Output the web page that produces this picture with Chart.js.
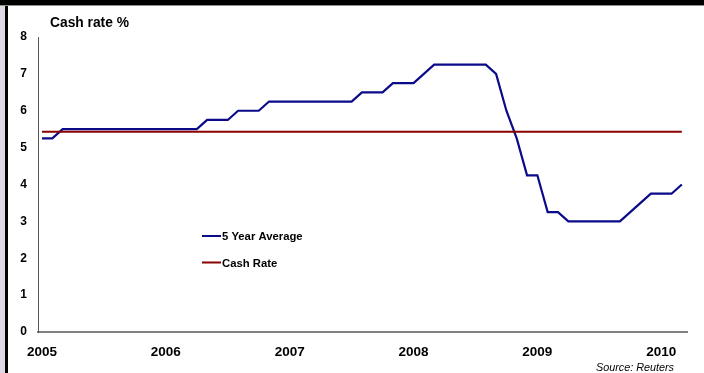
<!DOCTYPE html>
<html>
<head>
<meta charset="utf-8">
<script src="https://cdn.jsdelivr.net/npm/chart.js@4.4.1/dist/chart.umd.min.js"></script>
<style>
  html, body { margin: 0; padding: 0; background: #fff; }
  #wrap { position: relative; width: 704px; height: 373px; overflow: hidden; }
  #main-graph-canvas { position: absolute; left: 0; top: 0; }
  .frame-left { position: absolute; left: 0; top: 0; width: 5px; height: 373px; background: #ddd8e3; border-right: 3px solid #000; }
  .frame-top { position: absolute; left: 0; top: 0; width: 704px; height: 5px; background: #000; border-bottom: 1px solid #8c8c8c; }
</style>
</head>
<body>
<div id="wrap">
  <canvas id="main-graph-canvas" width="704" height="373"></canvas>
  <div class="frame-left"></div>
  <div class="frame-top"></div>
</div>
<script>
const TITLE = 'Cash rate %'
const SOURCE = 'Source: Reuters'

// x axis: one point per month, Jan 2005 = 0
const yearTicks = [0, 12, 24, 36, 48, 60]
const yearLabels = ['2005', '2006', '2007', '2008', '2009', '2010']

// monthly, Jan 2005 .. Mar 2010
const fiveYearAverage = [
  5.25, 5.25, 5.5, 5.5, 5.5, 5.5, 5.5, 5.5, 5.5, 5.5, 5.5, 5.5,
  5.5, 5.5, 5.5, 5.5, 5.75, 5.75, 5.75, 6.0, 6.0, 6.0, 6.25, 6.25,
  6.25, 6.25, 6.25, 6.25, 6.25, 6.25, 6.25, 6.5, 6.5, 6.5, 6.75, 6.75,
  6.75, 7.0, 7.25, 7.25, 7.25, 7.25, 7.25, 7.25, 7.0, 6.0, 5.25, 4.25,
  4.25, 3.25, 3.25, 3.0, 3.0, 3.0, 3.0, 3.0, 3.0, 3.25, 3.5, 3.75,
  3.75, 3.75, 4.0
]

// flat line across the whole period
const cashRateMonths = [0, 62]
const cashRate = [5.43, 5.43]

const FONT = '"Liberation Sans", Arial, sans-serif'

const chartText = {
  id: 'chartText',
  afterDraw(chart) {
    const ctx = chart.ctx
    ctx.save()
    ctx.fillStyle = '#000'
    ctx.textBaseline = 'middle'
    ctx.textAlign = 'left'
    ctx.font = 'bold 13.8px ' + FONT
    ctx.fillText(TITLE, 50, 23)

    // legend, sits inside the plot
    ctx.font = 'bold 11.3px ' + FONT
    chart.data.datasets.forEach((ds, i) => {
      const y = 236 + i * 26.5
      ctx.strokeStyle = ds.borderColor
      ctx.lineWidth = 2
      ctx.beginPath()
      ctx.moveTo(202, y)
      ctx.lineTo(221, y)
      ctx.stroke()
      ctx.fillText(ds.label, 222, y + 1)
    })

    ctx.font = 'italic 10.8px ' + FONT
    ctx.textAlign = 'right'
    ctx.fillText(SOURCE, 674, 368)
    ctx.restore()
  }
}

const ctx = document.getElementById('main-graph-canvas').getContext('2d')

new Chart(ctx, {
  type: 'line',
  data: {
    datasets: [
      {
        label: '5 Year Average',
        data: fiveYearAverage.map((v, i) => ({ x: i, y: v })),
        borderColor: '#0b0b8a',
        borderWidth: 2.2,
        order: 1
      },
      {
        label: 'Cash Rate',
        data: cashRateMonths.map((m, i) => ({ x: m, y: cashRate[i] })),
        borderColor: '#8b0000',
        borderWidth: 2.2,
        order: 0
      }
    ]
  },
  options: {
    responsive: false,
    animation: false,
    layout: { padding: { top: 37, right: 17, left: 0, bottom: 0 } },
    elements: { line: { tension: 0 }, point: { radius: 0 } },
    plugins: {
      legend: { display: false },
      tooltip: { enabled: false }
    },
    scales: {
      x: {
        type: 'linear',
        min: -0.39,
        max: 62.5,
        afterFit: (scale) => { scale.height = 41 },
        afterBuildTicks: (scale) => {
          scale.ticks = yearTicks.map((v) => ({ value: v }))
        },
        grid: { display: false, drawTicks: false },
        border: { color: '#808080', width: 2 },
        ticks: {
          autoSkip: false,
          maxRotation: 0,
          padding: 12,
          color: '#000',
          font: { family: FONT, size: 13.5, weight: 'bold' },
          callback: (val) => yearLabels[yearTicks.indexOf(val)]
        }
      },
      y: {
        min: 0,
        max: 8,
        afterFit: (scale) => { scale.width = 38 },
        grid: { display: false, drawTicks: false },
        border: { color: '#555', width: 1 },
        ticks: {
          stepSize: 1,
          padding: 11,
          color: '#000',
          font: { family: FONT, size: 12, weight: 'bold' }
        }
      }
    }
  },
  plugins: [chartText]
})
</script>
</body>
</html>
